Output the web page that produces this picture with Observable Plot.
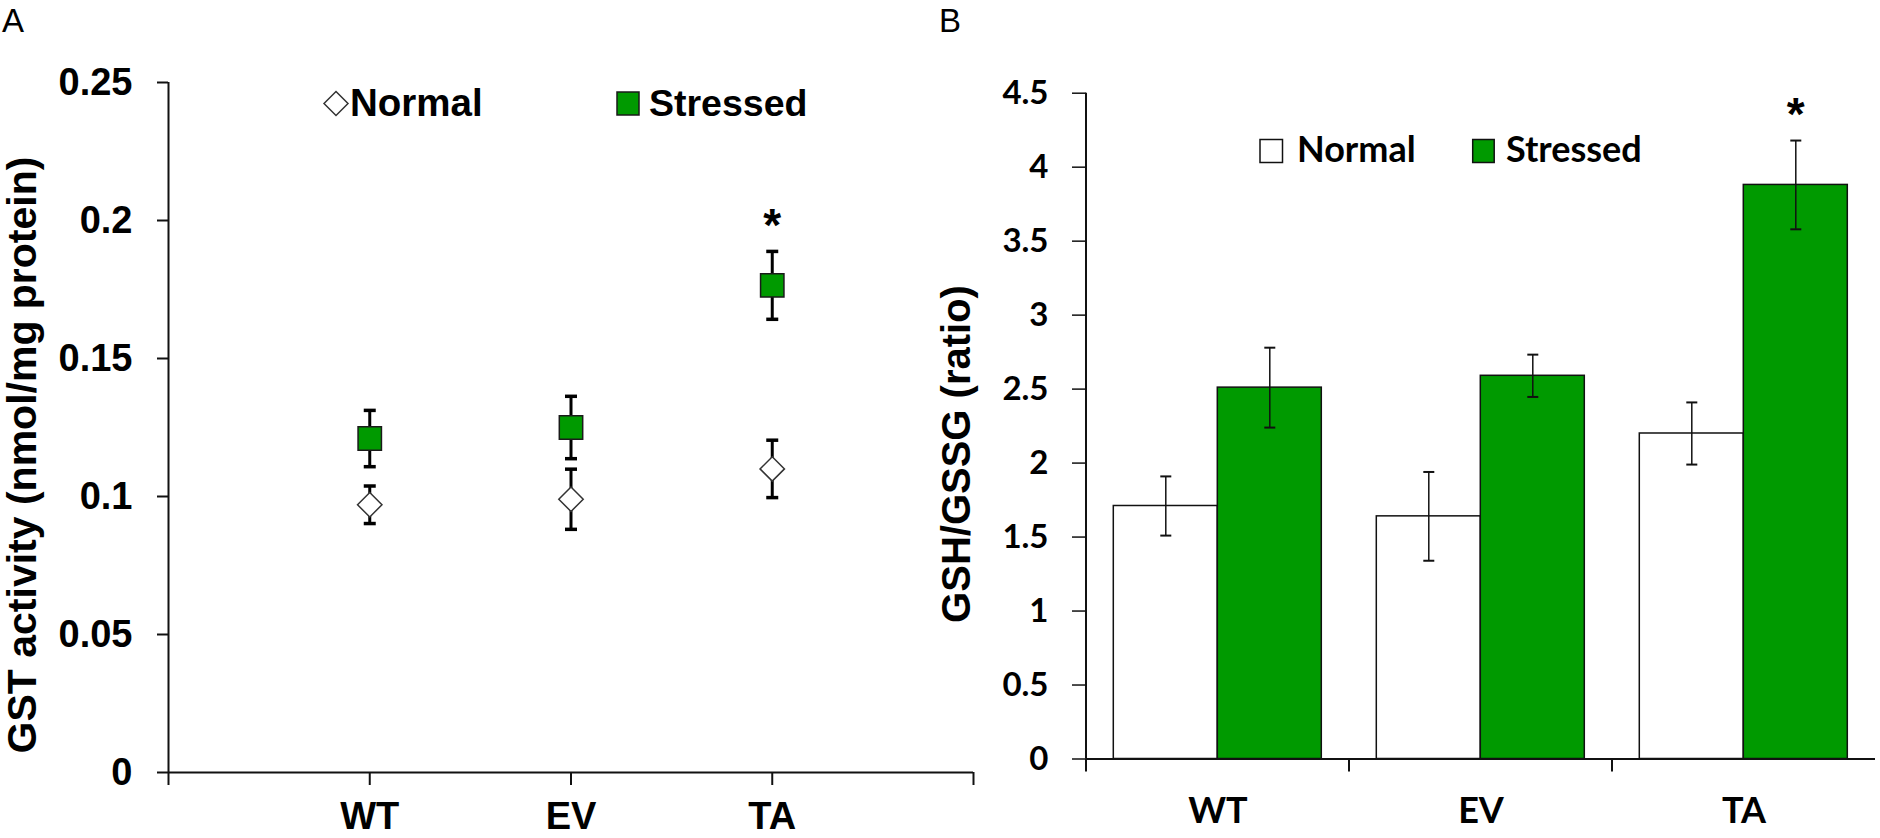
<!DOCTYPE html>
<html>
<head>
<meta charset="utf-8">
<script src="https://cdn.jsdelivr.net/npm/d3@7"></script>
<script src="https://cdn.jsdelivr.net/npm/@observablehq/plot@0.6"></script>
<style>
  html, body { margin: 0; padding: 0; background: white; }
  #wrap { position: relative; width: 1880px; height: 838px; overflow: hidden; background: white; }
  #wrap > svg, #wrap > .plot { position: absolute; top: 0; }
</style>
</head>
<body>
<div id="wrap"></div>
<script>
// ---------- data ----------
const categories = ["WT", "EV", "TA"];
const seriesNames = ["Normal", "Stressed"];
const significant = ["TA"];

// Panel A: GST activity (nmol/mg protein)
const gstNormal      = [0.097, 0.099, 0.110];
const gstNormalErr   = [0.0068, 0.0109, 0.0104];
const gstStressed    = [0.121, 0.125, 0.1765];
const gstStressedErr = [0.0102, 0.0113, 0.0123];
const gstTicks = [0, 0.05, 0.1, 0.15, 0.2, 0.25];

// Panel B: GSH/GSSG (ratio)
const ratioNormal      = [1.71, 1.64, 2.20];
const ratioNormalErr   = [0.20, 0.30, 0.21];
const ratioStressed    = [2.51, 2.59, 3.88];
const ratioStressedErr = [0.27, 0.143, 0.30];
const ratioTicks = [0, 0.5, 1, 1.5, 2, 2.5, 3, 3.5, 4, 4.5];

const GREEN = "#009a00";
const ARIAL = "'Liberation Sans', Arial, sans-serif";
const CALIBRI = "Lato, 'Open Sans', sans-serif";

const dataA = categories.flatMap((c, i) => [
  {cat: c, pos: i + 1, series: "Normal", mean: gstNormal[i], err: gstNormalErr[i]},
  {cat: c, pos: i + 1, series: "Stressed", mean: gstStressed[i], err: gstStressedErr[i]}
]);
const dataB = categories.flatMap((c, i) => [
  {cat: c, series: "Normal", mean: ratioNormal[i], err: ratioNormalErr[i]},
  {cat: c, series: "Stressed", mean: ratioStressed[i], err: ratioStressedErr[i]}
]);

// horizontal cap symbol for error bars
const capSymbol = {
  draw(context, size) {
    const r = Math.sqrt(size / Math.PI);
    context.moveTo(-r, 0);
    context.lineTo(r, 0);
  }
};

const wrap = document.getElementById("wrap");

// ---------- Panel A ----------
const plotA = Plot.plot({
  width: 1000, height: 838,
  marginLeft: 168, marginRight: 27, marginTop: 82, marginBottom: 66,
  style: {background: "transparent", overflow: "visible", maxWidth: "none", fontFamily: ARIAL},
  x: {domain: [0, 4]},
  y: {domain: [0, 0.25]},
  marks: [
    Plot.ruleY([0], {stroke: "#111", strokeWidth: 2}),
    Plot.ruleX([0], {stroke: "#111", strokeWidth: 2}),
    Plot.axisX({ticks: [0, 1, 2, 3, 4], tickFormat: d => categories[d - 1] ?? "",
      tickSize: 13, tickPadding: 17, fontSize: 38, fontWeight: "bold", fontFamily: ARIAL,
      stroke: "#111", strokeWidth: 2, label: null}),
    Plot.axisY({ticks: gstTicks, tickFormat: d3.format("~g"),
      tickSize: 11, tickPadding: 25, fontSize: 38, fontWeight: "bold", fontFamily: ARIAL,
      stroke: "#111", strokeWidth: 2, label: null}),
    Plot.ruleX(dataA, {x: "pos", y1: d => d.mean - d.err, y2: d => d.mean + d.err, stroke: "black", strokeWidth: 3}),
    Plot.dot(dataA, {x: "pos", y: d => d.mean + d.err, symbol: capSymbol, r: 6, fill: "none", stroke: "black", strokeWidth: 3.5}),
    Plot.dot(dataA, {x: "pos", y: d => d.mean - d.err, symbol: capSymbol, r: 6, fill: "none", stroke: "black", strokeWidth: 3.5}),
    Plot.dot(dataA.filter(d => d.series === "Normal"), {x: "pos", y: "mean", symbol: "diamond2", r: 11,
      fill: "white", stroke: "#333", strokeWidth: 1.5}),
    Plot.dot(dataA.filter(d => d.series === "Stressed"), {x: "pos", y: "mean", symbol: "square", r: 13.2,
      fill: GREEN, stroke: "#1a1a1a", strokeWidth: 1.5}),
    Plot.text(dataA.filter(d => d.series === "Stressed" && significant.includes(d.cat)),
      {x: "pos", y: d => d.mean + d.err, text: () => "*", fontSize: 46, fontWeight: "bold", fontFamily: ARIAL, dy: -25})
  ]
});
plotA.style.left = "0px";
wrap.appendChild(plotA);

// ---------- Panel B ----------
const plotB = Plot.plot({
  width: 940, height: 838,
  marginLeft: 145.7, marginRight: 4.5, marginTop: 92.7, marginBottom: 79.5,
  style: {background: "transparent", overflow: "visible", maxWidth: "none", fontFamily: CALIBRI},
  fx: {domain: categories, padding: 0},
  x: {domain: seriesNames, paddingInner: 0, paddingOuter: 0.255, axis: null},
  y: {domain: [0, 4.5]},
  color: {domain: seriesNames, range: ["white", GREEN]},
  marks: [
    Plot.barY(dataB, {fx: "cat", x: "series", y: "mean", fill: "series", stroke: "#111", strokeWidth: 1.5}),
    Plot.ruleX(dataB, {fx: "cat", x: "series", y1: d => d.mean - d.err, y2: d => d.mean + d.err, stroke: "#111", strokeWidth: 1.5}),
    Plot.dot(dataB, {fx: "cat", x: "series", y: d => d.mean + d.err, symbol: capSymbol, r: 5.5, fill: "none", stroke: "#111", strokeWidth: 2}),
    Plot.dot(dataB, {fx: "cat", x: "series", y: d => d.mean - d.err, symbol: capSymbol, r: 5.5, fill: "none", stroke: "#111", strokeWidth: 2}),
    Plot.ruleY([0], {stroke: "#111", strokeWidth: 2}),
    Plot.axisY({ticks: ratioTicks, tickFormat: d3.format("~g"),
      tickSize: 14, tickPadding: 24, fontSize: 33, fontWeight: "bold", fontFamily: CALIBRI,
      stroke: "#111", strokeWidth: 1.5, label: null}),
    Plot.axisFx({anchor: "bottom", tickSize: 0, tickPadding: 38, fontSize: 36, fontWeight: "bold", fontFamily: CALIBRI, label: null}),
    Plot.text(dataB.filter(d => d.series === "Stressed" && significant.includes(d.cat)),
      {fx: "cat", x: "series", y: d => d.mean + d.err, text: () => "*", fontSize: 46, fontWeight: "bold", fontFamily: ARIAL, dy: -25})
  ]
});
plotB.style.left = "940px";
wrap.appendChild(plotB);

// y-axis line and category-boundary ticks for panel B, from the plot's own scales
{
  const fx = plotB.scale("fx"), y = plotB.scale("y");
  const g = d3.select(plotB).append("g").attr("stroke", "#111").attr("stroke-width", 2);
  const x0 = fx.apply(categories[0]);
  g.append("line").attr("x1", x0).attr("x2", x0).attr("y1", y.apply(0)).attr("y2", y.apply(4.5));
  categories.forEach(c => {
    const xc = fx.apply(c);
    g.append("line").attr("x1", xc).attr("x2", xc).attr("y1", y.apply(0)).attr("y2", y.apply(0) + 13);
  });
}

// ---------- overlay: panel letters, axis titles, legends ----------
const ov = d3.select(wrap).append("svg")
  .attr("width", 1880).attr("height", 838)
  .style("position", "absolute").style("left", "0px").style("top", "0px")
  .style("pointer-events", "none");

ov.append("text").attr("x", 2).attr("y", 32).attr("font-family", ARIAL).attr("font-size", 33).text("A");
ov.append("text").attr("x", 939).attr("y", 32).attr("font-family", ARIAL).attr("font-size", 33).text("B");

ov.append("text").attr("transform", "translate(36,455) rotate(-90)").attr("text-anchor", "middle")
  .attr("font-family", ARIAL).attr("font-weight", "bold").attr("font-size", 41)
  .text("GST activity (nmol/mg protein)");
ov.append("text").attr("transform", "translate(970,454) rotate(-90)").attr("text-anchor", "middle")
  .attr("font-family", ARIAL).attr("font-weight", "bold").attr("font-size", 40)
  .text("GSH/GSSG (ratio)");

// legend A
ov.append("polygon").attr("points", "336,91.5 348,103.5 336,115.5 324,103.5")
  .attr("fill", "white").attr("stroke", "#333").attr("stroke-width", 1.5);
ov.append("text").attr("x", 350).attr("y", 116).attr("font-family", ARIAL).attr("font-weight", "bold")
  .attr("font-size", 38.5).text(seriesNames[0]);
ov.append("rect").attr("x", 617).attr("y", 92).attr("width", 22).attr("height", 23)
  .attr("fill", GREEN).attr("stroke", "#1a1a1a").attr("stroke-width", 1.5);
ov.append("text").attr("x", 649).attr("y", 116).attr("font-family", ARIAL).attr("font-weight", "bold")
  .attr("font-size", 37.5).text(seriesNames[1]);

// legend B
ov.append("rect").attr("x", 1260).attr("y", 139.5).attr("width", 22.5).attr("height", 23)
  .attr("fill", "white").attr("stroke", "#111").attr("stroke-width", 1.5);
ov.append("text").attr("x", 1297).attr("y", 162).attr("font-family", CALIBRI).attr("font-weight", "bold")
  .attr("font-size", 36).text(seriesNames[0]);
ov.append("rect").attr("x", 1472.7).attr("y", 139.5).attr("width", 21.5).attr("height", 23)
  .attr("fill", GREEN).attr("stroke", "#111").attr("stroke-width", 1.5);
ov.append("text").attr("x", 1506).attr("y", 162).attr("font-family", CALIBRI).attr("font-weight", "bold")
  .attr("font-size", 36).text(seriesNames[1]);
</script>
</body>
</html>
